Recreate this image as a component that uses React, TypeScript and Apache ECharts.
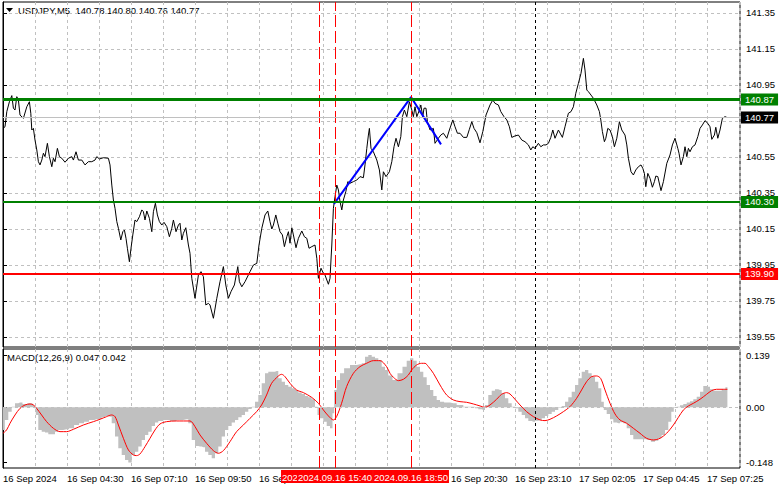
import React, { useEffect, useRef } from "react";
import * as echarts from "echarts";

// ---------- data (bar index = 5-minute bars from the left edge) ----------
const priceBar = [
  0, 1, 1.9, 3.2, 4.4, 5.2, 6, 6.9, 7.7, 8.5, 10.2, 11.9, 13.2, 13.9, 14.4, 15.2, 16, 16.9, 17.7, 18.5,
  19.4, 20.2, 21, 22.2, 23.2, 24.4, 25.2, 26, 27.2, 28.2, 29.4, 31, 32.7, 34.4, 35.2, 36.5, 37.7, 39.4, 41, 42.7,
  44.4, 46, 46.9, 48.2, 50.2, 52.7, 53.5, 54.4, 55.2, 56, 56.9, 57.7, 58.9, 59.9, 60.7, 61.5, 62.2, 63.2, 64, 64.9,
  66, 66.9, 68.2, 69.4, 70.2, 71, 71.9, 73.2, 74.4, 75.2, 76.2, 77.2, 78.2, 79.4, 80.5, 81.9, 83.2, 84.4, 85.2, 86.5,
  87.7, 88.5, 89.4, 90.2, 91.4, 92.7, 93.5, 94.4, 96, 97.7, 99, 100.2, 101.4, 102.7, 103.5, 105.2, 106.9, 108.5, 110.2, 111.4,
  112.7, 114, 115.7, 117.4, 118.2, 119.4, 121, 123.5, 125.2, 126.9, 128, 129.4, 131, 132.4, 133.5, 134.4, 135.2, 136.4, 137.4, 138.5,
  139.7, 140.7, 141.9, 142.7, 143.5, 144.4, 145.2, 146.5, 147.7, 149.4, 150.7, 151.9, 153, 154.4, 156, 156.9, 157.7, 159, 160.2, 161,
  162.7, 163.5, 164.4, 165.2, 166, 166.9, 167.7, 168.5, 169.4, 170.2, 171.4, 172.4, 173.5, 175.2, 176.9, 178.5, 180.2, 181, 181.9, 182.7,
  183.2, 184, 185.2, 186.9, 188.2, 189.4, 190.2, 191.5, 193.2, 194.4, 195.5, 196.5, 197.7, 198.9, 199.7, 200.7, 201.9, 203.2, 204.4, 205.2,
  206, 206.9, 208.2, 208.9, 209.9, 210.5, 211.5, 212.2, 213.5, 215.2, 216, 217.7, 218.9, 220.2, 221.9, 223.2, 224.9, 226, 227.2, 228.5,
  230.2, 231.9, 233.2, 234.4, 235.5, 236.9, 238.5, 239.9, 241.5, 243.5, 244.9, 246, 247.7, 248.9, 250.5, 251.9, 253.2, 254.4, 256, 257.7,
  259.4, 261, 262.7, 263.9, 264.9, 266, 267.7, 268.9, 270.2, 271.5, 272.7, 273.9, 274.9, 276, 277.7, 279.7, 281, 282.7, 284, 285.2,
  286.4, 287.7, 289, 290.2, 291, 291.9, 292.7, 294, 295.2, 296.9, 298.2, 298.9, 299.7, 300.7, 301.4, 302.4, 303.5, 304.7, 305.7, 306.9,
  308.2, 309.4, 311, 311.9, 312.7, 314, 315.2, 316.4, 317.7, 319, 319.9, 320.7, 321.4, 322.4, 323.5, 324.7, 325.7, 326.4, 327.4, 329,
  330.2, 331.9, 333.5, 334.7, 336, 337.4, 338, 339, 340.2, 341, 341.9, 342.7, 343.5, 344.7, 346, 347.4, 348.5, 349.7, 351, 352.4,
  353.5, 354.4, 355.7, 356.4, 357.4, 358.5, 359.7, 361, 361.9,
];
const priceClose = [
  140.709, 140.718, 140.802, 140.857, 140.891, 140.821, 140.811, 140.885, 140.867, 140.783, 140.765, 140.829, 140.857, 140.793, 140.7, 140.709, 140.644, 140.589, 140.524, 140.506,
  140.533, 140.571, 140.552, 140.626, 140.552, 140.496, 140.543, 140.524, 140.598, 140.552, 140.543, 140.521, 140.543, 140.552, 140.533, 140.579, 140.533, 140.533, 140.506, 140.524,
  140.524, 140.533, 140.552, 140.539, 140.546, 140.543, 140.506, 140.394, 140.311, 140.265, 140.191, 140.154, 140.089, 140.135, 140.144, 140.098, 140.043, 139.968, 140.043, 140.117,
  140.2, 140.191, 140.218, 140.256, 140.246, 140.2, 140.25, 140.209, 140.135, 140.246, 140.293, 140.228, 140.191, 140.172, 140.187, 140.163, 140.107, 140.154, 140.2, 140.135,
  140.172, 140.182, 140.089, 140.126, 140.157, 140.061, 140.015, 139.876, 139.765, 139.894, 139.913, 139.885, 139.728, 139.737, 139.728, 139.654, 139.765, 139.857, 139.941, 139.839,
  139.765, 139.802, 139.839, 139.941, 139.857, 139.829, 139.857, 139.913, 139.95, 139.959, 140.061, 140.154, 140.228, 140.25, 140.191, 140.15, 140.172, 140.228, 140.182, 140.135,
  140.117, 140.052, 140.107, 140.135, 140.071, 140.157, 140.117, 140.046, 140.098, 140.139, 140.107, 140.098, 140.043, 140.052, 140.061, 139.987, 139.876, 139.932, 139.904, 139.894,
  139.843, 139.876, 140.061, 140.265, 140.329, 140.394, 140.367, 140.302, 140.256, 140.311, 140.357, 140.413, 140.404, 140.413, 140.422, 140.441, 140.435, 140.506, 140.598, 140.672,
  140.709, 140.598, 140.579, 140.533, 140.478, 140.367, 140.468, 140.441, 140.468, 140.524, 140.607, 140.654, 140.607, 140.663, 140.774, 140.811, 140.774, 140.857, 140.811, 140.774,
  140.829, 140.774, 140.811, 140.839, 140.774, 140.821, 140.821, 140.746, 140.7, 140.709, 140.626, 140.654, 140.672, 140.682, 140.654, 140.7, 140.756, 140.718, 140.682, 140.682,
  140.659, 140.659, 140.704, 140.746, 140.709, 140.685, 140.629, 140.691, 140.783, 140.839, 140.867, 140.848, 140.839, 140.802, 140.774, 140.756, 140.718, 140.659, 140.667, 140.672,
  140.644, 140.635, 140.617, 140.589, 140.607, 140.598, 140.626, 140.607, 140.617, 140.617, 140.626, 140.659, 140.7, 140.654, 140.7, 140.659, 140.718, 140.793, 140.802, 140.829,
  140.904, 140.959, 141.015, 141.098, 141.033, 140.922, 140.913, 140.894, 140.876, 140.839, 140.802, 140.756, 140.691, 140.635, 140.654, 140.709, 140.7, 140.663, 140.607, 140.654,
  140.746, 140.7, 140.672, 140.617, 140.543, 140.468, 140.45, 140.478, 140.496, 140.506, 140.487, 140.459, 140.385, 140.459, 140.432, 140.382, 140.413, 140.444, 140.441, 140.363,
  140.413, 140.515, 140.561, 140.617, 140.654, 140.598, 140.571, 140.506, 140.552, 140.607, 140.552, 140.598, 140.579, 140.607, 140.617, 140.663, 140.709, 140.728, 140.752, 140.737,
  140.718, 140.648, 140.672, 140.715, 140.654, 140.7, 140.765, 140.774, 140.77,
];

const histBar = [
  0, 1.8, 3.5, 5.2, 6.8, 8.5, 11, 12.7, 14.3, 15.2, 16, 16.8, 18.5, 20.2, 21.8, 23.5, 25.2, 26.8, 28.5, 31.8,
  34.3, 36.8, 39.3, 41.8, 44.3, 46.8, 48.5, 50.2, 51.8, 53.5, 55.2, 56.8, 58.5, 60.2, 61.8, 63.5, 65.2, 66.8, 68.5, 70.2,
  71.8, 73.5, 75.2, 76.8, 78.5, 81.8, 85.2, 88.5, 91.8, 93.5, 95.2, 96.8, 98.5, 100.2, 101.8, 103.5, 105.2, 106.8, 108.5, 110.2,
  111.8, 113.5, 115.2, 116.8, 118.5, 120.2, 121.8, 123.5, 125.2, 126.8, 128.5, 130.2, 131.8, 133.5, 135.2, 136.8, 138.5, 140.2, 141.8, 143.5,
  145.2, 146.8, 148.5, 150.2, 151.8, 153.5, 155.2, 156.8, 157.7, 159.3, 161, 162.7, 164.3, 165.2, 166, 167.7, 169.3, 171.8, 175.2, 178.5,
  180.2, 181.8, 183.5, 185.2, 186.8, 188.5, 190.2, 191.8, 193.5, 196, 198.5, 201, 202.7, 204.3, 206, 207.7, 209.3, 211, 212.7, 214.3,
  216, 217.7, 219.3, 221.8, 225.2, 228.5, 231.8, 235.2, 236.8, 238.5, 240.2, 241.8, 243.5, 245.2, 246.8, 248.5, 250.2, 251.8, 253.5, 255.2,
  256.8, 258.5, 260.2, 261.8, 263.5, 265.2, 266.8, 268.5, 270.2, 271.8, 273.5, 275.2, 276.8, 278.5, 280.2, 281.8, 283.5, 285.2, 286.8, 288.5,
  290.2, 291.8, 293.5, 295.2, 296.8, 298.5, 299.8, 301, 302.7, 304.3, 306, 307.7, 309.3, 311, 312.7, 314.3, 316, 317.7, 320.2, 322.7,
  325.2, 326.8, 328.5, 330.2, 331.8, 333.5, 334.8, 336, 337.7, 339.3, 341, 342.7, 344.3, 346, 347.7, 349.3, 351, 352.7, 354.3, 356,
  358.5, 360.2, 362.2,
];
const histValue = [
  -0.0605, -0.0338, -0.0116, 0.0018, 0.0107, 0.0125, 0.0089, 0.0107, 0.0107, 0.0062, -0.0027, -0.0205, -0.0605, -0.065, -0.0676, -0.0721, -0.0721, -0.065, -0.0605, -0.0587,
  -0.0561, -0.0472, -0.0427, -0.0383, -0.0338, -0.032, -0.0312, -0.0267, -0.0231, -0.0249, -0.0427, -0.0783, -0.1095, -0.1273, -0.1406, -0.1477, -0.1273, -0.1184, -0.105, -0.0872,
  -0.0739, -0.065, -0.0498, -0.0409, -0.0365, -0.0338, -0.0365, -0.0338, -0.032, -0.0427, -0.0872, -0.1032, -0.105, -0.1068, -0.1184, -0.1273, -0.1362, -0.1228, -0.105, -0.0783,
  -0.0605, -0.0498, -0.0409, -0.0338, -0.0267, -0.0205, -0.0116, -0.0045, 0.0018, 0.0151, 0.0329, 0.0641, 0.0908, 0.0952, 0.0952, 0.097, 0.0774, 0.0685, 0.0596, 0.0552,
  0.0507, 0.0463, 0.0392, 0.0356, 0.0303, 0.0267, 0.0214, 0.0018, -0.0205, -0.0294, -0.0383, -0.0498, -0.0561, -0.016, 0.0463, 0.073, 0.0908, 0.1041, 0.113, 0.1148,
  0.1175, 0.1353, 0.1397, 0.1353, 0.1308, 0.1264, 0.1086, 0.0997, 0.085, 0.073, 0.0908, 0.1086, 0.1246, 0.1308, 0.1246, 0.1086, 0.0952, 0.0801, 0.0596, 0.0463,
  0.0303, 0.0196, 0.0151, 0.0125, 0.0107, 0.0062, 0.0018, 0.0018, -0.0027, -0.0053, -0.0071, 0.0062, 0.0329, 0.0445, 0.0481, 0.0463, 0.0374, 0.024, 0.0107, 0.0018,
  -0.0027, -0.0116, -0.0205, -0.0294, -0.0365, -0.0383, -0.0356, -0.0338, -0.0294, -0.0231, -0.0178, -0.0116, -0.0071, -0.0009, 0.0036, 0.0151, 0.0267, 0.0418, 0.0596, 0.0774,
  0.0952, 0.0997, 0.0908, 0.0819, 0.0685, 0.0507, 0.0151, -0.0071, -0.0178, -0.032, -0.0409, -0.0427, -0.04, -0.0427, -0.0561, -0.0739, -0.0854, -0.0854, -0.0854, -0.0872,
  -0.0917, -0.089, -0.0828, -0.0739, -0.0605, -0.0383, -0.0116, -0.0009, 0.0018, 0.0053, 0.0089, 0.0125, 0.016, 0.0214, 0.0285, 0.0418, 0.057, 0.0552, 0.0481, 0.0445,
  0.0445, 0.0481, 0.0534,
];

const signalBar = [
  0, 1.8, 3.5, 6, 8.5, 11, 13.5, 15.2, 16.8, 19.3, 21.8, 25.2, 28.5, 31.8, 35.2, 40.2, 45.2, 48.5, 51.8, 54.3,
  56, 57.7, 60.2, 62.7, 65.2, 66.8, 68.5, 71, 73.5, 76, 78.5, 81.8, 86.8, 93.5, 96, 98.5, 101.8, 105.2, 107.7, 110.2,
  113.5, 116.8, 120.2, 123.5, 126.8, 129.3, 131.8, 134.3, 137.7, 139.3, 141, 143.5, 146.8, 150.2, 154.3, 157.7, 160.2, 162.7, 165.2, 166.8,
  169.3, 171.8, 175.2, 178.5, 181.8, 185.2, 188.5, 191.8, 193.5, 195.2, 197.7, 200.2, 202.7, 204.3, 206.8, 209.3, 211, 212.7, 215.2, 218.5,
  221.8, 225.2, 228.5, 231.8, 235.2, 238.5, 241, 243.5, 246.8, 249.3, 251.8, 253.5, 256, 258.5, 261.8, 265.2, 268.5, 271, 273.5, 276.8,
  280.2, 283.5, 286.8, 289.3, 291.8, 294.3, 296.8, 298.8, 301, 303.5, 306, 308.5, 311.8, 315.2, 318.5, 321.8, 325.2, 328.5, 331.8, 335.2,
  337.7, 340.2, 342.7, 345.2, 348.5, 351.8, 354.3, 356.8, 360.2, 362.2,
];
const signalValue = [
  -0.0694, -0.0605, -0.0427, -0.0205, -0.0027, 0.0062, 0.0089, 0.0062, -0.0027, -0.0205, -0.0383, -0.0561, -0.065, -0.065, -0.0587, -0.0472, -0.0383, -0.032, -0.0249, -0.0205,
  -0.0249, -0.0472, -0.0828, -0.1139, -0.1273, -0.129, -0.1246, -0.105, -0.0828, -0.0605, -0.0445, -0.0383, -0.0365, -0.0365, -0.0516, -0.0739, -0.0961, -0.1157, -0.1228, -0.1157,
  -0.0917, -0.065, -0.0472, -0.0294, -0.0116, 0.0062, 0.0329, 0.0641, 0.0837, 0.0881, 0.0819, 0.0641, 0.0463, 0.0392, 0.0267, 0.0107, -0.0071, -0.0231, -0.0338, -0.0249,
  0.0107, 0.0552, 0.0908, 0.1086, 0.1175, 0.1246, 0.1246, 0.1086, 0.0908, 0.0801, 0.0712, 0.0748, 0.0863, 0.0997, 0.113, 0.1175, 0.1175, 0.1086, 0.0908, 0.0596,
  0.0329, 0.0196, 0.0151, 0.0134, 0.0089, 0.0036, 0, 0.0062, 0.0214, 0.0347, 0.0392, 0.0356, 0.0214, 0.0062, -0.0116, -0.0249, -0.0338, -0.0356, -0.032, -0.0231,
  -0.0116, 0.0018, 0.024, 0.0463, 0.0685, 0.0819, 0.0837, 0.0774, 0.0463, 0.0107, -0.0178, -0.0338, -0.0427, -0.0561, -0.0694, -0.0828, -0.0872, -0.0828, -0.0694, -0.0472,
  -0.0267, -0.0071, 0.0036, 0.0107, 0.0214, 0.0347, 0.0445, 0.0481, 0.0481, 0.0481,
];

const priceTicks = [139.55, 139.75, 139.95, 140.15, 140.35, 140.55, 140.75, 140.95, 141.15, 141.35];
// 140.75 sits under the current-price box in the reference, so it carries no visible label
const priceTickLabels = [139.55, 139.75, 139.95, 140.15, 140.35, 140.55, 140.95, 141.15, 141.35];
const macdTicks = [0.139, 0, -0.148];
const timeLabelBars = [0, 32, 64, 96, 128, 224, 256, 288, 320, 352];
const timeLabels = [
  "16 Sep 2024", "16 Sep 04:30", "16 Sep 07:10", "16 Sep 09:50", "16 Sep 12:30",
  "16 Sep 20:30", "16 Sep 23:10", "17 Sep 02:05", "17 Sep 04:45", "17 Sep 07:25",
];
const eventBars = [158, 166, 204];
const eventLabels = ["2024.09.16 15:00", "2024.09.16 15:40", "2024.09.16 18:50"];
const daySeparatorBar = 266;
const resistanceLevel = 140.87;
const supportLevel = 140.3;
const stopLevel = 139.9;
const lastPrice = 140.77;
const zigzagBar = [165.5, 204, 219];
const zigzagPrice = [140.29, 140.883, 140.62];
const titleText = "USDJPY,M5  140.78 140.80 140.76 140.77";
const macdTitle = "MACD(12,26,9) 0.047 0.042";

// ---------- styles ----------
const FONT = "'Liberation Sans', Arial, sans-serif";
const FS = 9.5;
const GRID_DASH = { color: "#c0c0c0", width: 1, type: [3, 3] as any };
const RED_DASH = { color: "#ff0000", width: 1, type: [12, 4] as any };
const BLACK_DASH = { color: "#000000", width: 1, type: [3, 3] as any };

function boxLabel(text: string, bg: string) {
  return {
    show: true,
    position: "end",
    formatter: text,
    backgroundColor: bg,
    color: "#ffffff",
    fontFamily: FONT,
    fontSize: FS,
    lineHeight: 11,
    padding: [1, 4, 0, 4],
    distance: 1,
  };
}

function buildOption(): any {
  const X_MAX = 368.5;
  const xBase = {
    type: "value",
    min: 0,
    max: X_MAX,
    interval: 16,
    axisLine: { show: false },
    axisTick: { show: false },
    splitLine: { show: true, lineStyle: GRID_DASH },
  };
  return {
    animation: false,
    backgroundColor: "#ffffff",
    textStyle: { fontFamily: FONT, fontSize: FS },
    grid: [
      { left: 3, right: 41, top: 2, height: 345, show: true, borderColor: "#000", borderWidth: 1, backgroundColor: "#fff" },
      { left: 3, right: 41, top: 349, height: 119, show: true, borderColor: "#000", borderWidth: 1, backgroundColor: "#fff" },
    ],
    xAxis: [
      { ...xBase, gridIndex: 0, axisLabel: { show: false } },
      {
        ...xBase,
        gridIndex: 1,
        axisLabel: {
          show: true,
          color: "#000",
          fontFamily: FONT,
          fontSize: FS,
          align: "left",
          margin: 5,
          formatter: (v: number) => {
            const i = timeLabelBars.indexOf(v);
            return i >= 0 ? timeLabels[i] : "";
          },
        },
      },
    ],
    yAxis: [
      {
        type: "value",
        gridIndex: 0,
        position: "right",
        min: 139.4944,
        max: 141.4111,
        axisLine: { show: true, lineStyle: { color: "#000" } },
        axisTick: { show: true, length: 4, customValues: priceTicks, lineStyle: { color: "#000" } },
        axisLabel: {
          show: true,
          customValues: priceTickLabels,
          color: "#000",
          fontFamily: FONT,
          fontSize: FS,
          margin: 6,
          formatter: (v: number) => v.toFixed(2),
        },
        splitLine: { show: true, lineStyle: GRID_DASH },
      },
      {
        type: "value",
        gridIndex: 1,
        position: "right",
        min: -0.1621,
        max: 0.1557,
        axisLine: { show: true, lineStyle: { color: "#000" } },
        axisTick: { show: true, length: 4, customValues: macdTicks, lineStyle: { color: "#000" } },
        axisLabel: {
          show: true,
          customValues: macdTicks,
          color: "#000",
          fontFamily: FONT,
          fontSize: FS,
          margin: 6,
          formatter: (v: number) => (v === 0 ? "0.00" : v.toFixed(3)),
        },
        splitLine: { show: false },
      },
    ],
    graphic: [
      { type: "polygon", shape: { points: [[6, 8], [13, 8], [9.5, 12]] }, style: { fill: "#000" } },
      { type: "text", left: 18, top: 5, style: { text: titleText, font: `${FS}px ${FONT}`, fill: "#000" } },
      { type: "text", left: 7, top: 352, style: { text: macdTitle, font: `${FS}px ${FONT}`, fill: "#000" } },
    ],
    series: [
      {
        name: "USDJPY",
        type: "line",
        xAxisIndex: 0,
        yAxisIndex: 0,
        data: priceBar.map((b, i) => [b, priceClose[i]]),
        showSymbol: false,
        symbol: "none",
        lineStyle: { color: "#000", width: 1 },
        z: 3,
        markLine: {
          silent: true,
          symbol: ["none", "none"],
          animation: false,
          data: [
            ...eventBars.map((b) => ({ xAxis: b, lineStyle: RED_DASH, label: { show: false } })),
            { xAxis: daySeparatorBar, lineStyle: BLACK_DASH, label: { show: false } },
            { yAxis: lastPrice, lineStyle: { color: "#c0c0c0", width: 1, type: "solid" }, label: boxLabel(lastPrice.toFixed(2), "#000000") },
            { yAxis: resistanceLevel, lineStyle: { color: "#008000", width: 3, type: "solid" }, label: boxLabel(resistanceLevel.toFixed(2), "#008000") },
            { yAxis: supportLevel, lineStyle: { color: "#008000", width: 2, type: "solid" }, label: boxLabel(supportLevel.toFixed(2), "#008000") },
            { yAxis: stopLevel, lineStyle: { color: "#ff0000", width: 2, type: "solid" }, label: boxLabel(stopLevel.toFixed(2), "#ff0000") },
          ],
        },
      },
      {
        name: "zigzag",
        type: "line",
        xAxisIndex: 0,
        yAxisIndex: 0,
        data: zigzagBar.map((b, i) => [b, zigzagPrice[i]]),
        showSymbol: false,
        symbol: "none",
        lineStyle: { color: "#0000ff", width: 2 },
        z: 4,
      },
      {
        name: "MACD",
        type: "line",
        xAxisIndex: 1,
        yAxisIndex: 1,
        data: histBar.map((b, i) => [b, histValue[i]]),
        step: "middle",
        showSymbol: false,
        symbol: "none",
        lineStyle: { width: 0, color: "#c0c0c0" },
        areaStyle: { color: "#c0c0c0", opacity: 1 },
        z: 2,
        markLine: {
          silent: true,
          symbol: ["none", "none"],
          animation: false,
          data: [
            { yAxis: 0, lineStyle: GRID_DASH, label: { show: false } },
            { xAxis: daySeparatorBar, lineStyle: BLACK_DASH, label: { show: false } },
            ...eventBars.map((b, i) => ({
              xAxis: b,
              lineStyle: RED_DASH,
              label: {
                show: true,
                position: "start",
                formatter: eventLabels[i],
                backgroundColor: "#ff0000",
                color: "#ffffff",
                fontFamily: FONT,
                fontSize: FS,
                lineHeight: 12,
                padding: [1, 1, 0, 1],
                distance: 2,
              },
            })),
          ],
        },
      },
      {
        name: "Signal",
        type: "line",
        xAxisIndex: 1,
        yAxisIndex: 1,
        data: signalBar.map((b, i) => [b, signalValue[i]]),
        smooth: 0.3,
        showSymbol: false,
        symbol: "none",
        lineStyle: { color: "#ff0000", width: 1 },
        z: 3,
      },
    ],
  };
}

export default function App() {
  const ref = useRef<HTMLDivElement>(null);
  useEffect(() => {
    if (!ref.current) return;
    const chart = echarts.init(ref.current, null, { renderer: "svg" });
    chart.setOption(buildOption());
    return () => chart.dispose();
  }, []);
  return (
    <div
      ref={ref}
      style={{ position: "fixed", left: 0, top: 0, width: 781, height: 489, background: "#fff" }}
    />
  );
}
